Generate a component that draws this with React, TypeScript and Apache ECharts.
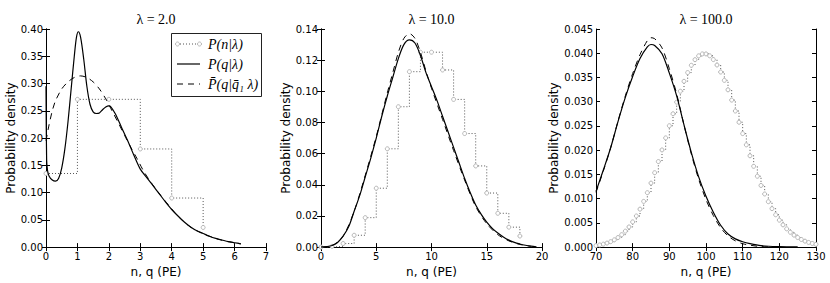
import React, { useEffect, useRef } from 'react';
import * as echarts from 'echarts';

// ---------- data ----------
const titles = ['λ = 2.0', 'λ = 10.0', 'λ = 100.0'];

// Panel 1 (λ = 2)
const p1N = [0, 1, 2, 3, 4, 5];
const p1P = [0.135, 0.271, 0.271, 0.18, 0.09, 0.036];
const p1SolidX = [0, 0.02, 0.05, 0.1, 0.2, 0.3, 0.4, 0.5, 0.6, 0.7, 0.8, 0.9, 0.97, 1.03, 1.1, 1.2, 1.3, 1.4, 1.5, 1.6, 1.7, 1.8, 1.9, 2.0, 2.05, 2.2, 2.4, 2.6, 2.8, 3.0, 3.2, 3.4, 3.6, 3.8, 4.0, 4.2, 4.4, 4.6, 4.8, 5.0, 5.2, 5.4, 5.6, 5.8, 6.0, 6.2];
const p1SolidY = [0.295, 0.16, 0.14, 0.13, 0.123, 0.121, 0.126, 0.145, 0.18, 0.23, 0.29, 0.35, 0.385, 0.395, 0.385, 0.345, 0.295, 0.262, 0.248, 0.245, 0.246, 0.252, 0.257, 0.259, 0.258, 0.245, 0.22, 0.195, 0.168, 0.143, 0.128, 0.113, 0.098, 0.083, 0.069, 0.057, 0.046, 0.037, 0.03, 0.025, 0.02, 0.016, 0.013, 0.01, 0.008, 0.006];
const p1DashX = [0, 0.1, 0.2, 0.3, 0.5, 0.7, 0.9, 1.1, 1.3, 1.5, 1.7, 1.9, 2.1, 2.3, 2.5, 2.7, 2.9, 3.1, 3.3, 3.5, 3.7, 3.9, 4.1, 4.3, 4.5, 4.7, 4.9, 5.1, 5.3, 5.5, 5.7, 5.9, 6.2];
const p1DashY = [0.195, 0.225, 0.25, 0.268, 0.29, 0.303, 0.311, 0.314, 0.311, 0.303, 0.29, 0.272, 0.25, 0.228, 0.205, 0.183, 0.162, 0.14, 0.122, 0.106, 0.091, 0.077, 0.063, 0.051, 0.041, 0.033, 0.027, 0.022, 0.018, 0.014, 0.011, 0.009, 0.006];

// Panel 2 (λ = 10)
const p2N = [0, 1, 2, 3, 4, 5, 6, 7, 8, 9, 10, 11, 12, 13, 14, 15, 16, 17, 18];
const p2P = [0.00005, 0.0005, 0.0023, 0.0076, 0.0189, 0.0378, 0.0631, 0.0901, 0.1126, 0.1251, 0.1251, 0.1137, 0.0948, 0.0729, 0.0521, 0.0347, 0.0217, 0.0128, 0.0071];
const p2SolidX = [0, 0.5, 1, 1.5, 2, 2.5, 3, 3.5, 4, 4.5, 5, 5.5, 6, 6.5, 7, 7.5, 8, 8.5, 9, 9.5, 10, 10.5, 11, 11.5, 12, 12.5, 13, 13.5, 14, 14.5, 15, 15.5, 16, 16.5, 17, 17.5, 18, 18.5, 19, 19.5];
const p2SolidY = [0, 0.0003, 0.001, 0.003, 0.007, 0.013, 0.023, 0.033, 0.045, 0.057, 0.07, 0.084, 0.097, 0.109, 0.121, 0.13, 0.133, 0.131, 0.123, 0.112, 0.103, 0.094, 0.084, 0.074, 0.064, 0.054, 0.044, 0.035, 0.027, 0.021, 0.016, 0.012, 0.009, 0.0065, 0.0045, 0.003, 0.002, 0.0012, 0.0006, 0.0002];
const p2DashX = [0, 1, 2, 3, 4, 5, 6, 6.5, 7, 7.5, 8, 8.5, 9, 9.5, 10, 11, 12, 13, 14, 15, 16, 17, 18, 19];
const p2DashY = [0, 0.001, 0.007, 0.023, 0.046, 0.071, 0.099, 0.112, 0.125, 0.134, 0.137, 0.134, 0.125, 0.113, 0.102, 0.082, 0.062, 0.043, 0.026, 0.015, 0.008, 0.004, 0.0017, 0.0005];

// Panel 3 (λ = 100)
const p3NStart = 70;
const p3P = [0.00031, 0.00044, 0.00061, 0.00083, 0.00112, 0.0015, 0.00197, 0.00256, 0.00329, 0.00416,
  0.0052, 0.00642, 0.00783, 0.00943, 0.01123, 0.01321, 0.01535, 0.01765, 0.02005, 0.02253,
  0.02504, 0.02751, 0.02991, 0.03216, 0.03421, 0.03601, 0.03751, 0.03867, 0.03946, 0.03986,
  0.03986, 0.03947, 0.03869, 0.03757, 0.03612, 0.0344, 0.03245, 0.03033, 0.02808, 0.02576,
  0.02342, 0.0211, 0.01884, 0.01667, 0.01462, 0.01272, 0.01096, 0.00937, 0.00794, 0.00667,
  0.00556, 0.00459, 0.00377, 0.00306, 0.00247, 0.00198, 0.00157, 0.00123, 0.00096, 0.00075, 0.00057];
const p3SolidX = [70, 72, 74, 76, 78, 80, 82, 84, 85, 86, 88, 90, 92, 94, 96, 98, 100, 102, 104, 106, 108, 110, 112, 115, 120, 125];
const p3SolidY = [0.0115, 0.0159, 0.0205, 0.0259, 0.0309, 0.0352, 0.0389, 0.0413, 0.0418, 0.0416, 0.0399, 0.0359, 0.0312, 0.0252, 0.0195, 0.0145, 0.0105, 0.0072, 0.0045, 0.0027, 0.0017, 0.0011, 0.0007, 0.0003, 0.0001, 0.00003];
const p3DashX = [70, 72, 74, 76, 78, 80, 82, 84, 85, 86, 88, 90, 92, 94, 96, 98, 100, 102, 104, 106, 108, 110, 112, 115, 120];
const p3DashY = [0.0113, 0.0157, 0.0205, 0.026, 0.0312, 0.0358, 0.0397, 0.0426, 0.0432, 0.043, 0.0411, 0.0368, 0.0316, 0.0252, 0.0192, 0.014, 0.0098, 0.0065, 0.004, 0.0023, 0.0013, 0.0007, 0.0004, 0.0001, 0];

const xLabel = 'n, q (PE)';
const yLabel = 'Probability density';
const legendLabels = ['P(n|λ)', 'P(q|λ)', 'P\u0304(q|q\u0304\u2081 λ)'];

// ---------- helpers ----------
const zip = (xs: number[], ys: number[]) => xs.map((x, i) => [x, ys[i]]);

const panels = [
  { left: 46, width: 220, xMin: 0, xMax: 7, xInt: 1, yMax: 0.4, yInt: 0.05, dec: 2, nameGap: 27,
    steps: zip(p1N, p1P), solid: zip(p1SolidX, p1SolidY), dash: zip(p1DashX, p1DashY) },
  { left: 321, width: 221, xMin: 0, xMax: 20, xInt: 5, yMax: 0.14, yInt: 0.02, dec: 2, nameGap: 27,
    steps: zip(p2N, p2P), solid: zip(p2SolidX, p2SolidY), dash: zip(p2DashX, p2DashY) },
  { left: 596, width: 220, xMin: 70, xMax: 130, xInt: 10, yMax: 0.045, yInt: 0.005, dec: 3, nameGap: 34,
    steps: p3P.map((v, i) => [p3NStart + i, v]), solid: zip(p3SolidX, p3SolidY), dash: zip(p3DashX, p3DashY) },
];

const TOP = 29;
const HEIGHT = 225;
const sans = 'DejaVu Sans';

function buildOption() {
  const grid: any[] = [];
  const xAxis: any[] = [];
  const yAxis: any[] = [];
  const series: any[] = [];
  const graphic: any[] = [];
  const line = { show: true, lineStyle: { color: '#000', width: 1 } };
  const tick = { show: true, inside: true, length: 4, lineStyle: { color: '#000', width: 1 } };

  panels.forEach((p, i) => {
    grid.push({ left: p.left, top: TOP, width: p.width, height: HEIGHT });
    const xBase = { type: 'value', gridIndex: i, min: p.xMin, max: p.xMax, interval: p.xInt,
      splitLine: { show: false }, axisLine: line, axisTick: tick };
    xAxis.push({ ...xBase, position: 'bottom',
      axisLabel: { fontFamily: sans, fontSize: 10, color: '#000', margin: 4 },
      name: xLabel, nameLocation: 'middle', nameGap: 12,
      nameTextStyle: { fontFamily: sans, fontSize: 12, fontWeight: 'normal', color: '#000' } });
    xAxis.push({ ...xBase, position: 'top', axisLabel: { show: false } });
    const yBase = { type: 'value', gridIndex: i, min: 0, max: p.yMax, interval: p.yInt,
      splitLine: { show: false }, axisLine: line, axisTick: tick };
    yAxis.push({ ...yBase, position: 'left',
      axisLabel: { fontFamily: sans, fontSize: 10, color: '#000', margin: 3,
        formatter: (v: number) => v.toFixed(p.dec) },
      name: yLabel, nameLocation: 'middle', nameGap: p.nameGap, nameRotate: 90,
      nameTextStyle: { fontFamily: sans, fontSize: 12, fontWeight: 'normal', color: '#000' } });
    yAxis.push({ ...yBase, position: 'right', axisLabel: { show: false } });

    series.push({
      type: 'line', xAxisIndex: 2 * i, yAxisIndex: 2 * i, data: p.steps, step: 'end',
      symbol: 'circle', symbolSize: 4, showSymbol: true, z: 2,
      itemStyle: { color: '#fff', borderColor: '#b5b5b5', borderWidth: 1 },
      lineStyle: { color: '#555', width: 1, type: [1, 2] },
    });
    series.push({
      type: 'line', xAxisIndex: 2 * i, yAxisIndex: 2 * i, data: p.dash, smooth: 0.3,
      showSymbol: false, z: 3, lineStyle: { color: '#000', width: 1, type: [6, 5] },
    });
    series.push({
      type: 'line', xAxisIndex: 2 * i, yAxisIndex: 2 * i, data: p.solid, smooth: 0.3,
      showSymbol: false, z: 4, lineStyle: { color: '#000', width: 1.2 },
    });

    graphic.push({
      type: 'text', x: p.left + p.width / 2, y: 12, z: 10,
      style: { text: titles[i], font: 'normal 14px "Liberation Serif"', fill: '#000', align: 'center', verticalAlign: 'top' },
    });
  });

  // legend box
  const lx = 171, ly = 33, lw = 90, lh = 63;
  graphic.push({ type: 'rect', z: 20, shape: { x: lx + 0.5, y: ly + 0.5, width: lw, height: lh },
    style: { fill: '#fff', stroke: '#222', lineWidth: 1 } });
  const rows = [44, 64, 84];
  graphic.push({ type: 'line', z: 21, shape: { x1: 177, y1: rows[0], x2: 200, y2: rows[0] },
    style: { stroke: '#555', lineWidth: 1, lineDash: [1, 2] } });
  graphic.push({ type: 'circle', z: 22, shape: { cx: 177.5, cy: rows[0], r: 2 }, style: { fill: '#fff', stroke: '#b5b5b5', lineWidth: 1 } });
  graphic.push({ type: 'circle', z: 22, shape: { cx: 199.5, cy: rows[0], r: 2 }, style: { fill: '#fff', stroke: '#b5b5b5', lineWidth: 1 } });
  graphic.push({ type: 'line', z: 21, shape: { x1: 177, y1: rows[1], x2: 200, y2: rows[1] },
    style: { stroke: '#000', lineWidth: 1.2 } });
  graphic.push({ type: 'line', z: 21, shape: { x1: 177, y1: rows[2], x2: 200, y2: rows[2] },
    style: { stroke: '#000', lineWidth: 1, lineDash: [6, 5] } });
  legendLabels.forEach((t, k) => {
    graphic.push({ type: 'text', z: 22, x: 208, y: rows[k],
      style: { text: t, font: 'italic 14px "Liberation Serif"', fill: '#000', verticalAlign: 'middle' } });
  });

  return { animation: false, backgroundColor: '#fff', grid, xAxis, yAxis, series, graphic };
}

export default function App() {
  const ref = useRef<HTMLDivElement>(null);
  useEffect(() => {
    const chart = echarts.init(ref.current!, null, { renderer: 'svg', width: 830, height: 283 });
    chart.setOption(buildOption() as any);
    return () => chart.dispose();
  }, []);
  return <div ref={ref} style={{ position: 'fixed', left: 0, top: 0, width: 830, height: 283, background: '#fff' }} />;
}
